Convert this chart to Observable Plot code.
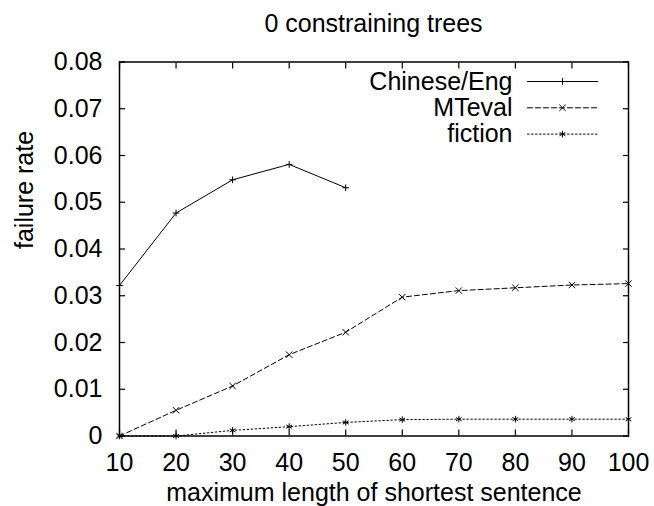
<!DOCTYPE html>
<html>
<head>
<meta charset="utf-8">
<script src="https://cdn.jsdelivr.net/npm/d3@7"></script>
<script src="https://cdn.jsdelivr.net/npm/@observablehq/plot@0.6"></script>
<style>
  html, body { margin: 0; padding: 0; background: #fff; }
  body { font-family: "Liberation Sans", Arial, sans-serif; color: #000; }
  #title { height: 43px; line-height: 46px; font-size: 25px; text-align: center;
           padding-left: 93px; width: 561px; white-space: nowrap; overflow: visible; }
  #chart svg { display: block; }
</style>
</head>
<body>
<div id="title">0 constraining trees</div>
<div id="chart"></div>
<script>
// ---- data ----
const titleText = "0 constraining trees";
const xLabel = "maximum length of shortest sentence";
const yLabel = "failure rate";

const lengthsChinese = [10, 20, 30, 40, 50];
const chineseEng = [0.0322, 0.0477, 0.0548, 0.0581, 0.0531];

const lengthsAll = [10, 20, 30, 40, 50, 60, 70, 80, 90, 100];
const mteval  = [0, 0.0055, 0.0107, 0.0174, 0.0222, 0.0297, 0.0311, 0.0317, 0.0323, 0.0326];
const fiction = [0, 0, 0.0012, 0.0020, 0.0029, 0.0035, 0.0036, 0.0036, 0.0036, 0.0036];

const seriesNames = ["Chinese/Eng", "MTeval", "fiction"];

const xTicks = [10, 20, 30, 40, 50, 60, 70, 80, 90, 100];
const xTickLabels = ["10", "20", "30", "40", "50", "60", "70", "80", "90", "100"];
const yTicks = [0, 0.01, 0.02, 0.03, 0.04, 0.05, 0.06, 0.07, 0.08];
const yTickLabels = ["0", "0.01", "0.02", "0.03", "0.04", "0.05", "0.06", "0.07", "0.08"];

// ---- styling per series ----
const styles = {
  "Chinese/Eng": { dash: null,  symbol: "plus",     r: 2.3 },
  "MTeval":      { dash: "5,3", symbol: "times",    r: 3.0 },
  "fiction":     { dash: "1.5,2.5", symbol: "asterisk", r: 3.1 }
};

const rows = [
  ...lengthsChinese.map((x, i) => ({ series: "Chinese/Eng", x, y: chineseEng[i] })),
  ...lengthsAll.map((x, i) => ({ series: "MTeval", x, y: mteval[i] })),
  ...lengthsAll.map((x, i) => ({ series: "fiction", x, y: fiction[i] }))
];

const FS = 25;
const lineShape = { draw(ctx, l) { ctx.moveTo(0, 0); ctx.lineTo(0, -l); } };

const marks = [];

// data lines and markers
seriesNames.forEach(name => {
  const s = styles[name];
  const data = rows.filter(d => d.series === name);
  marks.push(Plot.line(data, { x: "x", y: "y", stroke: "#000", strokeWidth: 1,
    strokeDasharray: s.dash }));
  marks.push(Plot.dot(data, { x: "x", y: "y", symbol: () => s.symbol, r: s.r,
    stroke: "#000", strokeWidth: 1 }));
});

// legend (top-right, inside the frame)
seriesNames.forEach((name, i) => {
  const s = styles[name];
  const dy = 19.5 + i * 26.3;
  marks.push(Plot.text([name], { frameAnchor: "top-right", text: d => d, textAnchor: "end",
    lineAnchor: "middle", dx: -116, dy, fontSize: FS, fill: "#000" }));
  marks.push(Plot.vector([name], { frameAnchor: "top-right", length: 70, rotate: 90,
    anchor: "start", shape: lineShape, dx: -101, dy, stroke: "#000", strokeWidth: 1,
    strokeDasharray: s.dash }));
  marks.push(Plot.dot([name], { frameAnchor: "top-right", dx: -66, dy,
    symbol: () => s.symbol, r: s.r, stroke: "#000", strokeWidth: 1 }));
});

// axes: labels outside, ticks inside on all four sides
marks.push(
  Plot.axisY(yTicks, { anchor: "left", tickSize: 0, tickPadding: 17, label: null,
    fontSize: FS, tickFormat: d => yTickLabels[yTicks.indexOf(d)] }),
  Plot.axisX(xTicks, { anchor: "bottom", tickSize: 0, tickPadding: 17, label: null,
    fontSize: FS, tickFormat: d => xTickLabels[xTicks.indexOf(d)] }),
  Plot.axisY(yTicks, { anchor: "left", tickSize: -6, label: null, tickFormat: () => "",
    stroke: "#000", strokeWidth: 1.2 }),
  Plot.axisY(yTicks, { anchor: "right", tickSize: -6, label: null, tickFormat: () => "",
    stroke: "#000", strokeWidth: 1.2 }),
  Plot.axisX(xTicks, { anchor: "bottom", tickSize: -6, label: null, tickFormat: () => "",
    stroke: "#000", strokeWidth: 1.2 }),
  Plot.axisX(xTicks, { anchor: "top", tickSize: -6, label: null, tickFormat: () => "",
    stroke: "#000", strokeWidth: 1.2 }),
  Plot.frame({ stroke: "#000", strokeWidth: 1.5 }),
  Plot.text([yLabel], { frameAnchor: "left", dx: -95, rotate: -90, text: d => d,
    lineAnchor: "middle", fontSize: FS, fill: "#000" }),
  Plot.text([xLabel], { frameAnchor: "bottom", dy: 57, text: d => d,
    lineAnchor: "middle", fontSize: FS, fill: "#000" })
);

const chart = Plot.plot({
  width: 654,
  height: 463,
  marginLeft: 119,
  marginRight: 26,
  marginTop: 18.5,
  marginBottom: 70.5,
  style: { fontFamily: "'Liberation Sans', Arial, sans-serif", fontSize: FS + "px",
           color: "#000", background: "#fff", overflow: "visible" },
  x: { domain: [10, 100] },
  y: { domain: [0, 0.08] },
  marks
});
document.getElementById("title").textContent = titleText;
document.getElementById("chart").appendChild(chart);
</script>
</body>
</html>
